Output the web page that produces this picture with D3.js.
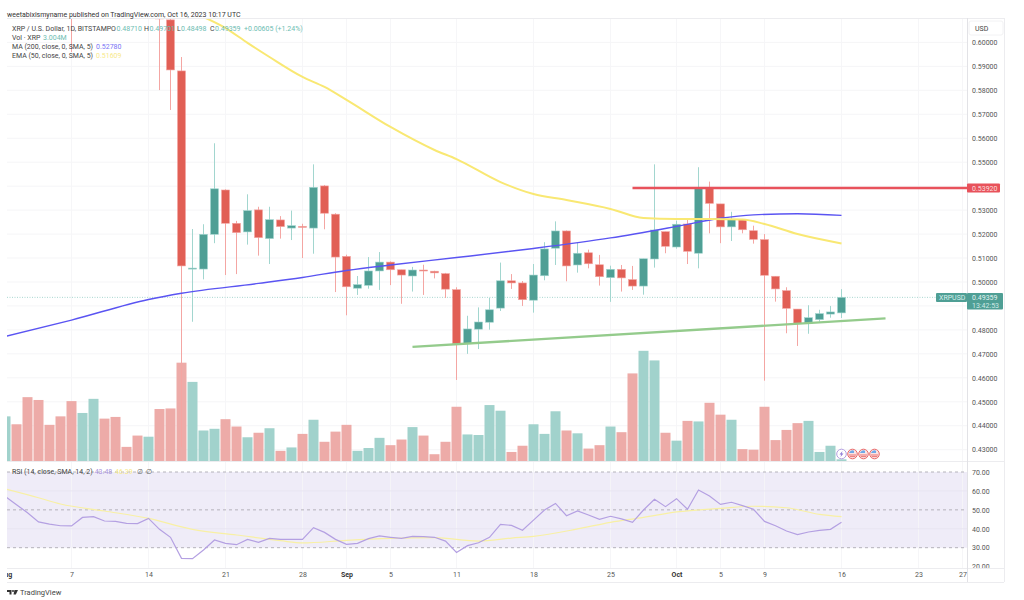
<!DOCTYPE html>
<html>
<head>
<meta charset="utf-8">
<style>
  html, body { margin: 0; padding: 0; background: #fff; }
  svg { display: block; font-family: Roboto, "Noto Sans", sans-serif; }
  .axis text { font-size: 7px; fill: #555; font-family: Roboto, sans-serif; }
  .axis path, .axis line { display: none; }
</style>
</head>
<body>
<svg id="chart" width="1024" height="600"></svg>
<script src="https://cdnjs.cloudflare.com/ajax/libs/d3/7.8.5/d3.min.js"></script>
<script>
/* global d3 */

// candles: Aug 7 (only its wick shows), then every day from Aug 15 to Oct 16
const candleDates = [new Date(Date.UTC(2023, 7, 7))].concat(
  d3.utcDays(new Date(Date.UTC(2023, 7, 15)), new Date(Date.UTC(2023, 9, 17))));

const opens = [0.63, 0.65, 0.6094, 0.5881, 0.5056, 0.5054, 0.5199, 0.5384, 0.5245, 0.5209, 0.5301, 0.5181, 0.5259, 0.5225, 0.5232, 0.5225, 0.5401, 0.5283,
  0.5107, 0.4974, 0.4986, 0.5046, 0.5083, 0.5051, 0.5025, 0.5050, 0.5045, 0.5035, 0.4968, 0.4742, 0.4803, 0.4832, 0.4891, 0.5005, 0.4996, 0.4924, 0.5026, 0.5141, 0.5213, 0.5071, 0.5122, 0.5072, 0.5018, 0.5053, 0.5010, 0.4983, 0.5096, 0.5210,
  0.5146, 0.5242, 0.5120, 0.5391, 0.5326, 0.5230, 0.5259, 0.5214, 0.5177, 0.5024, 0.4964, 0.4887, 0.4826, 0.4843, 0.4866, 0.48710];
const highs = [0.64, 0.66, 0.6114, 0.5939, 0.5221, 0.5241, 0.5579, 0.5387, 0.5255, 0.5366, 0.5314, 0.5314, 0.5275, 0.5298, 0.5243, 0.5491, 0.5405, 0.5287,
  0.5114, 0.5025, 0.5104, 0.5125, 0.5086, 0.5051, 0.5063, 0.5072, 0.5047, 0.5038, 0.4978, 0.4859, 0.4894, 0.4934, 0.5081, 0.5033, 0.5004, 0.5075, 0.5166, 0.5253, 0.5215, 0.5163, 0.5135, 0.5113, 0.5068, 0.5071, 0.5067, 0.5097, 0.5491, 0.5210,
  0.5256, 0.5266, 0.5479, 0.5419, 0.5326, 0.5293, 0.5263, 0.5235, 0.5200, 0.5024, 0.4978, 0.4887, 0.4903, 0.4884, 0.4900, 0.49701];
const lows = [0.5960, 0.5801, 0.5718, 0.4311, 0.4834, 0.5011, 0.5162, 0.5029, 0.5033, 0.5156, 0.5110, 0.5075, 0.5181, 0.5175, 0.5100, 0.5118, 0.5220, 0.4958,
  0.4861, 0.4946, 0.4972, 0.4967, 0.4987, 0.4909, 0.4960, 0.4946, 0.5015, 0.4933, 0.4591, 0.4700, 0.4720, 0.4801, 0.4879, 0.4971, 0.4900, 0.4872, 0.5007, 0.5071, 0.5003, 0.5039, 0.5057, 0.4985, 0.4917, 0.4960, 0.4967, 0.4947, 0.5060, 0.5120,
  0.5139, 0.5075, 0.5057, 0.5203, 0.5162, 0.5171, 0.5203, 0.5160, 0.4588, 0.4918, 0.4786, 0.4733, 0.4784, 0.4834, 0.4851, 0.48498];
const closes = [0.62, 0.6098, 0.5885, 0.5067, 0.5058, 0.5199, 0.5389, 0.5245, 0.5206, 0.5298, 0.5185, 0.5260, 0.5231, 0.5235, 0.5228, 0.5395, 0.5287, 0.5104,
  0.4980, 0.4989, 0.5046, 0.5083, 0.5051, 0.5029, 0.5050, 0.5046, 0.5038, 0.4970, 0.4742, 0.4804, 0.4833, 0.4884, 0.5005, 0.4996, 0.4926, 0.5029, 0.5138, 0.5213, 0.5067, 0.5120, 0.5076, 0.5022, 0.5053, 0.5017, 0.4983, 0.5097, 0.5217, 0.5149,
  0.5241, 0.5128, 0.5394, 0.5328, 0.5230, 0.5262, 0.5218, 0.5178, 0.5028, 0.4971, 0.4890, 0.4828, 0.4851, 0.4868, 0.4875, 0.49359];

// volume in millions, Aug 1 to Oct 16
const volumes = [79, 65, 113, 108, 64, 79, 106, 85, 110, 75, 78, 25, 45, 43, 92, 93, 174, 140, 54, 57, 74, 61, 42, 50, 58, 18, 24, 48, 73, 34, 52,
  64, 18, 23, 41, 28, 38, 60, 45, 12, 34, 96, 47, 46, 99, 89, 16, 27, 65, 48, 88, 54, 49, 22, 28, 61, 51, 155, 195, 178, 50,
  36, 71, 70, 103, 82, 73, 21, 20, 96, 37, 55, 67, 71, 16, 27, 3.004];
const volumeUp = [1,0,0,0,0,0,0,1,1,0,0,0,0,1,0,0,0,1,1,1,0,0,1,0,1,0,1,0,1,0,0,
  0,1,1,1,0,0,1,0,0,0,0,1,1,1,1,0,0,1,1,1,0,1,0,0,1,0,0,1,1,0,
  1,0,1,0,0,1,0,0,0,0,0,0,1,1,1,1];

// moving averages at these dates
const maDates = ["2023-08-01", "2023-08-07", "2023-08-14", "2023-08-17", "2023-08-24", "2023-08-28", "2023-09-01", "2023-09-05", "2023-09-11", "2023-09-18", "2023-09-25", "2023-10-01", "2023-10-05", "2023-10-08", "2023-10-12", "2023-10-16"];
const maValues = [0.4773, 0.4841, 0.4927, 0.4953, 0.4994, 0.5019, 0.5048, 0.5071, 0.5102, 0.5140, 0.5184, 0.5232, 0.5266, 0.5280, 0.5285, 0.5278];
const emaDates = ["2023-08-19", "2023-08-21", "2023-08-23", "2023-08-25", "2023-08-28", "2023-08-30", "2023-09-01", "2023-09-05", "2023-09-09", "2023-09-11", "2023-09-15", "2023-09-18", "2023-09-21", "2023-09-25", "2023-09-28", "2023-10-01", "2023-10-04", "2023-10-07", "2023-10-09", "2023-10-12", "2023-10-16"];
const emaValues = [0.6106, 0.6060, 0.5998, 0.5939, 0.5856, 0.5814, 0.5760, 0.5647, 0.5551, 0.5513, 0.5417, 0.5367, 0.5342, 0.5305, 0.5267, 0.5263, 0.5263, 0.5261, 0.5242, 0.5200, 0.51609];

// drawings
const trendDates = ["2023-09-07", "2023-10-20"];
const trendValues = [0.4729, 0.4848];
const resistanceStart = "2023-09-27";
const resistanceValue = 0.5392;
const lastPrice = 0.49359;

// RSI, Aug 1 to Oct 16
const rsiValues = [57.0, 52.7, 48.5, 43.6, 42.5, 41.6, 41.5, 46.0, 46.4, 44.1, 43.9, 42.9, 42.7, 45.5, 39.7, 35.5, 24.4, 24.2, 28.8, 34.1, 32.3, 31.6, 34.4, 32.8, 34.9, 34.4, 34.4, 34.4, 40.6, 38.1, 34.4,
  31.8, 32.3, 34.8, 36.2, 35.5, 34.9, 36.0, 35.8, 35.5, 33.5, 27.5, 31.1, 32.6, 35.5, 42.3, 41.8, 39.2, 44.6, 49.9, 53.4, 46.9, 49.4, 47.3, 45.0, 46.6, 45.2, 43.4, 49.9, 55.6, 51.7,
  55.9, 50.3, 60.5, 57.3, 52.9, 54.0, 52.2, 50.3, 43.9, 41.6, 38.8, 36.9, 38.3, 39.2, 39.7, 43.48];
const rsiMaDates = ["2023-08-01", "2023-08-04", "2023-08-06", "2023-08-10", "2023-08-14", "2023-08-18", "2023-08-22", "2023-08-26", "2023-08-28", "2023-09-01", "2023-09-05", "2023-09-09", "2023-09-13", "2023-09-16", "2023-09-18", "2023-09-22", "2023-09-25", "2023-09-28", "2023-10-01", "2023-10-05", "2023-10-08", "2023-10-11", "2023-10-14", "2023-10-16"];
const rsiMaValues = [61.0, 56.4, 53.1, 49.4, 45.5, 39.7, 36.7, 33.7, 32.5, 33.9, 34.9, 35.3, 33.5, 35.1, 36.0, 39.9, 43.4, 46.0, 48.9, 50.8, 51.9, 51.1, 47.6, 46.39];

// axes
const priceTicks = [0.43, 0.44, 0.45, 0.46, 0.47, 0.48, 0.50, 0.51, 0.52, 0.53, 0.55, 0.56, 0.57, 0.58, 0.59, 0.60];
const priceGridLines = [0.43, 0.44, 0.45, 0.46, 0.47, 0.48, 0.49, 0.50, 0.51, 0.52, 0.53, 0.54, 0.55, 0.56, 0.57, 0.58, 0.59, 0.60];
const rsiTicks = [20, 30, 40, 50, 60, 70];
const rsiDashed = [30, 50, 70];
const timeTickDates = ["2023-08-01", "2023-08-07", "2023-08-14", "2023-08-21", "2023-08-28", "2023-09-01", "2023-09-05", "2023-09-11", "2023-09-18", "2023-09-25", "2023-10-01", "2023-10-05", "2023-10-09", "2023-10-16", "2023-10-23", "2023-10-27"];
const timeTickLabels = ["Aug", "7", "14", "21", "28", "Sep", "5", "11", "18", "25", "Oct", "5", "9", "16", "23", "27"];
const flagDates = ["2023-10-17", "2023-10-18", "2023-10-19"];

const plotLeft = 7, plotRight = 967, plotOuter = 1004, plotTop = 18, priceBottom = 461, rsiBottom = 568, timeBottom = 582;
const upColor = "#4f9f95", downColor = "#e15f55", upWick = "#a2d6cf", downWick = "#f4a6a3";
const upVol = "#a1d2cc", downVol = "#edaba8";
const gridColor = "#f5f5f7", frameColor = "#ececef";

const parse = d3.utcParse("%Y-%m-%d");
const volumeDates = d3.utcDays(parse("2023-08-01"), parse("2023-10-17"));

const x = d3.scaleUtc().domain([parse("2023-08-01"), parse("2023-10-27")]).range([5.5, 962.5]);
const yPrice = d3.scaleLinear().domain([0.43, 0.60]).range([449.7, 42.4]);
const yVol = d3.scaleLinear().domain([0, 195.2]).range([priceBottom, 350.7]);
const yRsi = d3.scaleLinear().domain([30, 70]).range([547.7, 472]);

const svg = d3.select("#chart");
const defs = svg.append("defs");
defs.append("clipPath").attr("id", "pricePane").append("rect")
  .attr("x", plotLeft).attr("y", plotTop).attr("width", plotRight - plotLeft).attr("height", priceBottom - plotTop);
defs.append("clipPath").attr("id", "rsiPane").append("rect")
  .attr("x", plotLeft).attr("y", priceBottom).attr("width", plotRight - plotLeft).attr("height", rsiBottom - priceBottom);
defs.append("clipPath").attr("id", "rsiAxis").append("rect")
  .attr("x", plotRight).attr("y", priceBottom).attr("width", plotOuter - plotRight).attr("height", rsiBottom - priceBottom);
defs.append("clipPath").attr("id", "timeAxis").append("rect")
  .attr("x", plotLeft).attr("y", rsiBottom).attr("width", plotOuter - plotLeft).attr("height", timeBottom - rsiBottom);

// RSI band goes under the grid and lines
svg.append("rect").attr("x", plotLeft).attr("y", yRsi(70)).attr("width", plotRight - plotLeft)
  .attr("height", yRsi(30) - yRsi(70)).attr("fill", "#efecf8");

// grid
const grid = svg.append("g").attr("stroke-width", 1).attr("fill", "none");
grid.append("g").selectAll("line").data(priceGridLines).join("line")
  .attr("x1", plotLeft).attr("x2", plotRight).attr("y1", d => yPrice(d)).attr("y2", d => yPrice(d)).attr("stroke", gridColor);
grid.append("g").selectAll("line").data(timeTickDates.slice(1)).join("line")
  .attr("x1", d => x(parse(d))).attr("x2", d => x(parse(d)))
  .attr("y1", plotTop).attr("y2", rsiBottom).attr("stroke", gridColor).attr("stroke-opacity", 0.9);
svg.append("g").selectAll("line").data([40, 60]).join("line")
  .attr("x1", plotLeft).attr("x2", plotRight).attr("y1", d => yRsi(d)).attr("y2", d => yRsi(d)).attr("stroke", "#e8e5f2");
svg.append("g").selectAll("line").data(rsiDashed).join("line")
  .attr("x1", plotLeft).attr("x2", plotRight).attr("y1", d => yRsi(d)).attr("y2", d => yRsi(d))
  .attr("stroke", "#b4b2ba").attr("stroke-dasharray", "3,3");

const pricePane = svg.append("g").attr("clip-path", "url(#pricePane)");

// volume
pricePane.append("g").selectAll("rect").data(volumes).join("rect")
  .attr("x", (d, i) => x(volumeDates[i]) - 5)
  .attr("width", 10)
  .attr("y", d => yVol(d))
  .attr("height", d => priceBottom - yVol(d))
  .attr("fill", (d, i) => volumeUp[i] ? upVol : downVol);

// last price line
pricePane.append("line").attr("x1", plotLeft).attr("x2", plotRight)
  .attr("y1", yPrice(lastPrice)).attr("y2", yPrice(lastPrice))
  .attr("stroke", "#a8d6d0").attr("stroke-dasharray", "1,1.5");

// candles
const candle = pricePane.append("g").selectAll("g").data(candleDates).join("g");
candle.append("line")
  .attr("x1", d => x(d)).attr("x2", d => x(d))
  .attr("y1", (d, i) => yPrice(highs[i])).attr("y2", (d, i) => yPrice(lows[i]))
  .attr("stroke", (d, i) => closes[i] >= opens[i] ? upWick : downWick);
candle.append("rect")
  .attr("x", d => x(d) - 4)
  .attr("width", 8)
  .attr("y", (d, i) => yPrice(Math.max(opens[i], closes[i])))
  .attr("height", (d, i) => Math.max(1, Math.abs(yPrice(opens[i]) - yPrice(closes[i]))))
  .attr("fill", (d, i) => closes[i] >= opens[i] ? upColor : downColor)
  .attr("stroke", (d, i) => closes[i] >= opens[i] ? upWick : downWick)
  .attr("stroke-width", 0.6);

// moving averages and drawings
const priceLine = d3.line().x(d => x(parse(d[0]))).y(d => yPrice(d[1])).curve(d3.curveMonotoneX);
pricePane.append("path").attr("d", priceLine(d3.zip(maDates, maValues)))
  .attr("fill", "none").attr("stroke", "#5a54f2").attr("stroke-width", 1.4);
pricePane.append("path").attr("d", priceLine(d3.zip(emaDates, emaValues)))
  .attr("fill", "none").attr("stroke", "#f9e873").attr("stroke-width", 2);
pricePane.append("path").attr("d", d3.line().x(d => x(parse(d[0]))).y(d => yPrice(d[1]))(d3.zip(trendDates, trendValues)))
  .attr("fill", "none").attr("stroke", "#94cb8c").attr("stroke-width", 2.4);
pricePane.append("line")
  .attr("x1", x(parse(resistanceStart))).attr("x2", plotRight)
  .attr("y1", yPrice(resistanceValue)).attr("y2", yPrice(resistanceValue))
  .attr("stroke", "#e8525b").attr("stroke-width", 2.4);

// RSI
const rsiPane = svg.append("g").attr("clip-path", "url(#rsiPane)");
rsiPane.append("path")
  .attr("d", d3.line().x(d => x(parse(d[0]))).y(d => yRsi(d[1])).curve(d3.curveMonotoneX)(d3.zip(rsiMaDates, rsiMaValues)))
  .attr("fill", "none").attr("stroke", "#f8f0a4").attr("stroke-width", 1.2);
rsiPane.append("path")
  .attr("d", d3.line().x((d, i) => x(volumeDates[i])).y(d => yRsi(d))(rsiValues))
  .attr("fill", "none").attr("stroke", "#b4a0e2").attr("stroke-width", 1.2);

// event icons
const icons = svg.append("g");
const boltDate = parse("2023-10-16");
icons.append("circle").attr("cx", x(boltDate)).attr("cy", 454).attr("r", 4.8)
  .attr("fill", "#fff").attr("stroke", "#b49fe0").attr("stroke-width", 1);
icons.append("path").attr("transform", `translate(${x(boltDate)},454)`)
  .attr("d", "M1,-3L-2,0.5H-0.3L-1,3L2,-0.5H0.3Z").attr("fill", "#8f7bd6");
flagDates.forEach(d => {
  const g = icons.append("g").attr("transform", `translate(${x(parse(d))},454)`);
  g.append("circle").attr("r", 4.8).attr("fill", "#fbe3e3").attr("stroke", "#e96a6a").attr("stroke-width", 1);
  g.append("path").attr("d", "M-3.5,-1A3.6,3.6 0 0 1 1.5,-3.3V-1Z").attr("fill", "#6fa8e8");
  g.append("path").attr("d", "M-3.6,1H3.6M-2.8,2.6H2.8").attr("stroke", "#e96a6a").attr("stroke-width", 0.9);
});

// frame
const frame = svg.append("g").attr("stroke", frameColor).attr("fill", "none");
[plotTop, priceBottom, rsiBottom, timeBottom].forEach(y => {
  frame.append("line").attr("x1", plotLeft).attr("x2", plotOuter).attr("y1", y + 0.5).attr("y2", y + 0.5);
});
frame.append("line").attr("x1", plotRight + 0.5).attr("x2", plotRight + 0.5).attr("y1", plotTop).attr("y2", timeBottom).attr("stroke", "#e2e2e6");
frame.append("line").attr("x1", plotOuter + 0.5).attr("x2", plotOuter + 0.5).attr("y1", plotTop).attr("y2", timeBottom);

// axes
svg.append("g").attr("class", "axis").attr("transform", `translate(${plotRight},0)`)
  .call(d3.axisRight(yPrice).tickValues(priceTicks)
    .tickFormat(d3.format(".5f")).tickSize(0).tickPadding(5));
svg.append("g").attr("clip-path", "url(#rsiAxis)")
  .append("g").attr("class", "axis").attr("transform", `translate(${plotRight},0)`)
  .call(d3.axisRight(yRsi).tickValues(rsiTicks).tickFormat(d3.format(".2f")).tickSize(0).tickPadding(5));
const timeAxis = svg.append("g").attr("clip-path", "url(#timeAxis)")
  .append("g").attr("class", "axis").attr("transform", `translate(0,${rsiBottom + 3})`)
  .call(d3.axisBottom(x).tickValues(timeTickDates.map(parse))
    .tickFormat((d, i) => timeTickLabels[i]).tickSize(0).tickPadding(1));
timeAxis.selectAll("text")
  .attr("font-weight", (d, i) => /[A-Z]/.test(timeTickLabels[i]) ? 700 : 400)
  .style("fill", (d, i) => /[A-Z]/.test(timeTickLabels[i]) ? "#333" : "#555");

// text helper
function label(xPos, yPos, str, color, size) {
  return svg.append("text").attr("x", xPos).attr("y", yPos)
    .attr("fill", color || "#444").attr("font-size", size || 7).text(str);
}

// price labels
svg.append("rect").attr("x", 969).attr("y", 21).attr("width", 34).attr("height", 14).attr("rx", 2)
  .attr("fill", "#fff").attr("stroke", "#f2f2f4");
label(975, 30.5, "USD", "#444");

svg.append("rect").attr("x", plotRight).attr("y", yPrice(resistanceValue) - 4.5).attr("width", 33).attr("height", 9).attr("rx", 1).attr("fill", "#e8525b");
label(972, yPrice(resistanceValue) + 2.5, "0.53920", "#fbdede");

svg.append("rect").attr("x", 936).attr("y", 293).attr("width", 31).attr("height", 9).attr("rx", 1).attr("fill", "#4f9f95");
label(939, 300, "XRPUSD", "#d8efec");
svg.append("rect").attr("x", plotRight).attr("y", 293).attr("width", 36).attr("height", 16.5).attr("rx", 1).attr("fill", "#4f9f95");
label(972, 300, "0.49359", "#e3f3f1");
label(972, 307.5, "13:42:53", "#cfe9e5");

// header and legends
label(7, 16.5, "weetabixismyname published on TradingView.com, Oct 16, 2023 10:17 UTC", "#333", 7);
label(12, 31, "XRP / U.S. Dollar, 1D, BITSTAMP");
label(111, 31, "O");
label(116.5, 31, "0.48710", "#6dbdb2");
label(144, 31, "H");
label(149.5, 31, "0.49701", "#6dbdb2");
label(177, 31, "L");
label(181, 31, "0.48498", "#6dbdb2");
label(210, 31, "C");
label(215, 31, "0.49359", "#6dbdb2");
label(244, 31, "+0.00605 (+1.24%)", "#6dbdb2");
label(12, 40, "Vol · XRP");
label(43, 40, "3.004M", "#6dbdb2");
label(12, 49, "MA (200, close, 0, SMA, 5)");
label(96, 49, "0.52780", "#7a74f5");
label(12, 58, "EMA (50, close, 0, SMA, 5)");
label(96, 58, "0.51609", "#f7e98a");

label(12, 473.5, "RSI (14, close, SMA, 14, 2)");
label(94.7, 473.5, "43.48", "#a994dd");
label(115, 473.5, "46.39", "#f7e98a");
label(137, 473.5, "∅", "#666");
label(146, 473.5, "∅", "#666");

// logo
const logo = svg.append("g").attr("fill", "#333");
logo.append("path").attr("d", "M7,590H11.5V594.5H9.5V592H7Z");
logo.append("circle").attr("cx", 13).attr("cy", 591).attr("r", 1);
logo.append("path").attr("d", "M14.5,590H18L15.8,594.5H13.5Z");
label(20, 595, "TradingView", "#444", 7.5);
</script>
</body>
</html>
